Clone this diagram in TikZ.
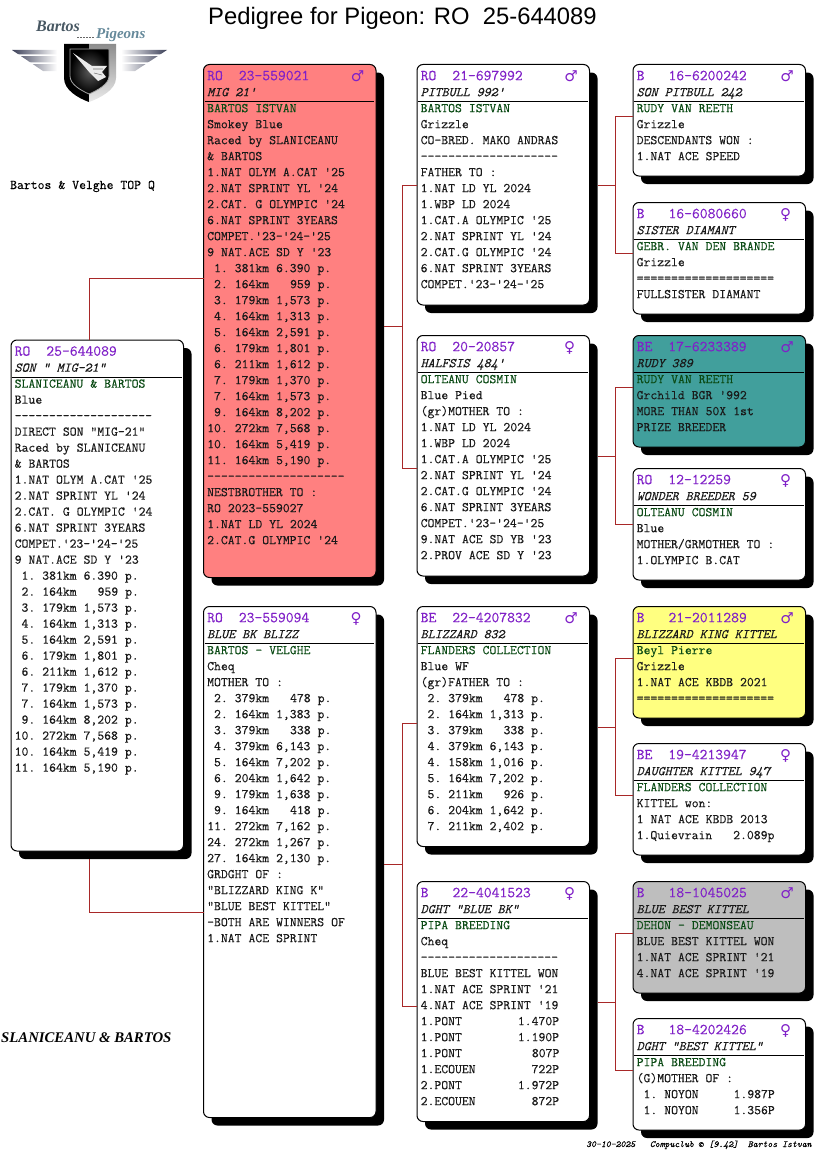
\documentclass[tikz,border=0pt]{standalone}
\usepackage{fontspec}
\usepackage{xcolor}
\usepackage{tikz}
\usetikzlibrary{calc,shadows}
\setmainfont{Liberation Serif}
\setsansfont{Liberation Sans}
\setmonofont[FakeBold=0.2]{Latin Modern Mono}
\newfontfamily\symfont{DejaVu Sans}
\definecolor{ringpurple}{HTML}{8020C8}
\definecolor{loftgreen}{HTML}{0A4A14}
\definecolor{linkred}{HTML}{A82828}
\definecolor{cardred}{HTML}{FF8080}
\definecolor{cardteal}{HTML}{419F9C}
\definecolor{cardyellow}{HTML}{FFFF80}
\definecolor{cardgrey}{HTML}{BEBEBE}
\definecolor{wingblue}{HTML}{3C4058}
\newcommand{\ringno}[1]{\rule{0pt}{15.5pt}{\fontsize{15.2}{16}\selectfont\spaceskip=8pt\xspaceskip=8pt\relax\textcolor{ringpurple}{#1}}}
\newcommand{\petname}[1]{\textit{#1}}
\newcommand{\loftname}[1]{\textcolor{loftgreen}{#1}}
\newcommand{\pad}{\phantom{0}}
\newcommand{\racelist}{\pad1.~381km~6.390~p.\\\pad2.~164km~~~959~p.\\\pad3.~179km~1,573~p.\\\pad4.~164km~1,313~p.\\\pad5.~164km~2,591~p.\\\pad6.~179km~1,801~p.\\\pad6.~211km~1,612~p.\\\pad7.~179km~1,370~p.\\\pad7.~164km~1,573~p.\\\pad9.~164km~8,202~p.\\10.~272km~7,568~p.\\10.~164km~5,419~p.\\11.~164km~5,190~p.}
\newcommand{\cardfont}{\ttfamily\fontsize{13.33}{16}\selectfont\spaceskip=7pt\xspaceskip=7pt\relax}
\newcommand{\stampfont}{\ttfamily\itshape\fontsize{9.33}{10}\selectfont\spaceskip=4.9pt\xspaceskip=4.9pt\relax}
\tikzset{
ped box/.style={
  draw=black,
  line width=1pt,
  rounded corners=6pt,
  anchor=north west,
  outer sep=0pt,
  inner sep=0pt,
  minimum width=172.5pt,
  fill=white,
  drop shadow={shadow xshift=8pt,shadow yshift=-8pt,fill=black,opacity=1}
},
ped text/.style={
  anchor=north west,
  inner xsep=3.5pt,
  inner ysep=0pt,
  text width=168pt,
  align=flush left,
  text=black!90,
  font=\cardfont
},
head rule/.style={draw=black, line width=1pt},
sex mark/.style={text=ringpurple, inner sep=0pt, font=\symfont\bfseries\fontsize{15}{15}\selectfont},
link/.style={draw=linkred, line width=1pt},
loose text/.style={anchor=base west, inner sep=0pt}
}
\begin{document}
\begin{tikzpicture}[x=1pt,y=-1pt]
\useasboundingbox (0,0) rectangle (816,1172);
% page texts
\node[loose text,font=\sffamily\fontsize{23.8}{24}\selectfont] (title) at (208,25) {Pedigree for Pigeon: RO~~25-644089};
\node[loose text,font=\cardfont] (topq) at (10,189) {Bartos \& Velghe TOP Q};
\node[loose text,font=\rmfamily\bfseries\itshape\fontsize{14.75}{15}\selectfont] (breeder) at (1,1042) {SLANICEANU \& BARTOS};
\node[loose text,font=\stampfont] (stamp) at (586,1147) {30-10-2025~~~Compuclub © [9.42]~~Bartos Istvan};
% logo
\node[loose text,text=black!70!cyan,font=\rmfamily\bfseries\itshape\fontsize{16}{16}\selectfont] (logoa) at (36,32) {Bartos};
\node[loose text,text=cyan!45!black!80,font=\rmfamily\bfseries\itshape\fontsize{15}{15}\selectfont] (logob) at (96,39) {Pigeons};
\draw[black!60,line width=0.8pt,dash pattern=on 2pt off 1pt] (77,37) -- (95,37);
\shade[left color=wingblue,right color=white] (12,50) -- (57,50) -- (57,71) -- (43,71) -- cycle;
\shade[left color=white,right color=wingblue] (167,50) -- (121,50) -- (121,71) -- (135,71) -- cycle;
\fill[white] (16,54.5) rectangle (57,56) (30,62.5) rectangle (57,64);
\fill[white] (121,54.5) rectangle (163,56) (121,62.5) rectangle (149,64);
\fill[black] (64,44) -- (89,44) -- (89,102) .. controls (78,98) and (64,90) .. (64,78) -- cycle;
\shade[top color=black!45,bottom color=black!8] (89,44) -- (116,44) -- (116,78) .. controls (116,90) and (100,98) .. (89,102) -- cycle;
\shade[inner color=black!65,outer color=black,draw=black!35,line width=0.8pt] (70,49) -- (109,49) -- (109,76) .. controls (109,84) and (98,90) .. (89,94) .. controls (80,90) and (70,84) .. (70,76) -- cycle;
\fill[black!8] (73,53) -- (92,66) -- (107,66) -- (102,72) -- (106,77) -- (98,81) -- (90,73) -- cycle;
\draw[black!55,line width=0.6pt] (93,69) -- (103,69) (94,73) -- (102,75);
% cards
\node[ped box,minimum height=511pt] (root) at (11,340) {};
\node[ped box,fill=cardred,minimum height=513pt] (sire) at (203.5,64.5) {};
\node[ped box,minimum height=511pt] (dam) at (203.5,606.5) {};
\node[ped box,minimum height=240.5pt] (ss) at (417,64.5) {};
\node[ped box,minimum height=240.5pt] (sd) at (417,335.5) {};
\node[ped box,minimum height=240pt] (ds) at (417,606.5) {};
\node[ped box,minimum height=240pt] (dd) at (417,881.5) {};
\node[ped box,minimum height=111.5pt] (sss) at (633,64.5) {};
\node[ped box,minimum height=111.5pt] (ssd) at (633,202.5) {};
\node[ped box,fill=cardteal,minimum height=111.5pt] (sds) at (633,335.5) {};
\node[ped box,minimum height=111.5pt] (sdd) at (633,468.5) {};
\node[ped box,fill=cardyellow,minimum height=111.5pt] (dss) at (633,606.5) {};
\node[ped box,minimum height=111.5pt] (dsd) at (633,743.5) {};
\node[ped box,fill=cardgrey,minimum height=111.5pt] (dds) at (633,881.5) {};
\node[ped box,minimum height=111.5pt] (ddd) at (633,1018.5) {};
\node[ped text] (roottxt) at (root.north west) {\ringno{RO~~25-644089}\\\petname{SON " MIG-21"}\\\loftname{SLANICEANU \& BARTOS}\\Blue\\--------------------\\DIRECT SON "MIG-21"\\Raced by SLANICEANU\\\& BARTOS\\1.NAT OLYM A.CAT '25\\2.NAT SPRINT YL '24\\2.CAT. G OLYMPIC '24\\6.NAT SPRINT 3YEARS\\COMPET.'23-'24-'25\\9 NAT.ACE SD Y '23\\\racelist};
\node[ped text] (siretxt) at (sire.north west) {\ringno{RO~~23-559021}\\\petname{MIG 21'}\\\loftname{BARTOS ISTVAN}\\Smokey Blue\\Raced by SLANICEANU\\\& BARTOS\\1.NAT OLYM A.CAT '25\\2.NAT SPRINT YL '24\\2.CAT. G OLYMPIC '24\\6.NAT SPRINT 3YEARS\\COMPET.'23-'24-'25\\9 NAT.ACE SD Y '23\\\racelist\\--------------------\\NESTBROTHER TO :\\RO 2023-559027\\1.NAT LD YL 2024\\2.CAT.G OLYMPIC '24};
\node[ped text] (damtxt) at (dam.north west) {\ringno{RO~~23-559094}\\\petname{BLUE BK BLIZZ}\\\loftname{BARTOS - VELGHE}\\Cheq\\MOTHER TO :\\\pad2.~379km~~~478~p.\\\pad2.~164km~1,383~p.\\\pad3.~379km~~~338~p.\\\pad4.~379km~6,143~p.\\\pad5.~164km~7,202~p.\\\pad6.~204km~1,642~p.\\\pad9.~179km~1,638~p.\\\pad9.~164km~~~418~p.\\11.~272km~7,162~p.\\24.~272km~1,267~p.\\27.~164km~2,130~p.\\GRDGHT OF :\\"BLIZZARD KING K"\\"BLUE BEST KITTEL"\\-BOTH ARE WINNERS OF\\1.NAT ACE SPRINT};
\node[ped text] (sstxt) at (ss.north west) {\ringno{RO~~21-697992}\\\petname{PITBULL 992'}\\\loftname{BARTOS ISTVAN}\\Grizzle\\CO-BRED. MAKO ANDRAS\\--------------------\\FATHER TO :\\1.NAT LD YL 2024\\1.WBP LD 2024\\1.CAT.A OLYMPIC '25\\2.NAT SPRINT YL '24\\2.CAT.G OLYMPIC '24\\6.NAT SPRINT 3YEARS\\COMPET.'23-'24-'25};
\node[ped text] (sdtxt) at (sd.north west) {\ringno{RO~~20-20857}\\\petname{HALFSIS 484'}\\\loftname{OLTEANU COSMIN}\\Blue Pied\\(gr)MOTHER TO :\\1.NAT LD YL 2024\\1.WBP LD 2024\\1.CAT.A OLYMPIC '25\\2.NAT SPRINT YL '24\\2.CAT.G OLYMPIC '24\\6.NAT SPRINT 3YEARS\\COMPET.'23-'24-'25\\9.NAT ACE SD YB '23\\2.PROV ACE SD Y '23};
\node[ped text] (dstxt) at (ds.north west) {\ringno{BE~~22-4207832}\\\petname{BLIZZARD 832}\\\loftname{FLANDERS COLLECTION}\\Blue WF\\(gr)FATHER TO :\\\pad2.~379km~~~478~p.\\\pad2.~164km~1,313~p.\\\pad3.~379km~~~338~p.\\\pad4.~379km~6,143~p.\\\pad4.~158km~1,016~p.\\\pad5.~164km~7,202~p.\\\pad5.~211km~~~926~p.\\\pad6.~204km~1,642~p.\\\pad7.~211km~2,402~p.};
\node[ped text] (ddtxt) at (dd.north west) {\ringno{B~~~22-4041523}\\\petname{DGHT "BLUE BK"}\\\loftname{PIPA BREEDING}\\Cheq\\--------------------\\BLUE BEST KITTEL WON\\1.NAT ACE SPRINT '21\\4.NAT ACE SPRINT '19\\1.PONT~~~~~~~~1.470P\\1.PONT~~~~~~~~1.190P\\1.PONT~~~~~~~~~~807P\\1.ECOUEN~~~~~~~~722P\\2.PONT~~~~~~~~1.972P\\2.ECOUEN~~~~~~~~872P};
\node[ped text] (ssstxt) at (sss.north west) {\ringno{B~~~16-6200242}\\\petname{SON PITBULL 242}\\\loftname{RUDY VAN REETH}\\Grizzle\\DESCENDANTS WON :\\1.NAT ACE SPEED};
\node[ped text] (ssdtxt) at (ssd.north west) {\ringno{B~~~16-6080660}\\\petname{SISTER DIAMANT}\\\loftname{GEBR. VAN DEN BRANDE}\\Grizzle\\====================\\FULLSISTER DIAMANT};
\node[ped text] (sdstxt) at (sds.north west) {\ringno{BE~~17-6233389}\\\petname{RUDY 389}\\\loftname{RUDY VAN REETH}\\Grchild BGR '992\\MORE THAN 50X 1st\\PRIZE BREEDER};
\node[ped text] (sddtxt) at (sdd.north west) {\ringno{RO~~12-12259}\\\petname{WONDER BREEDER 59}\\\loftname{OLTEANU COSMIN}\\Blue\\MOTHER/GRMOTHER TO :\\1.OLYMPIC B.CAT};
\node[ped text] (dsstxt) at (dss.north west) {\ringno{B~~~21-2011289}\\\petname{BLIZZARD KING KITTEL}\\\loftname{Beyl Pierre}\\Grizzle\\1.NAT ACE KBDB 2021\\====================};
\node[ped text] (dsdtxt) at (dsd.north west) {\ringno{BE~~19-4213947}\\\petname{DAUGHTER KITTEL 947}\\\loftname{FLANDERS COLLECTION}\\KITTEL won:\\1 NAT ACE KBDB 2013\\1.Quievrain~~~2.089p};
\node[ped text] (ddstxt) at (dds.north west) {\ringno{B~~~18-1045025}\\\petname{BLUE BEST KITTEL}\\\loftname{DEHON - DEMONSEAU}\\BLUE BEST KITTEL WON\\1.NAT ACE SPRINT '21\\4.NAT ACE SPRINT '19};
\node[ped text] (dddtxt) at (ddd.north west) {\ringno{B~~~18-4202426}\\\petname{DGHT "BEST KITTEL"}\\\loftname{PIPA BREEDING}\\(G)MOTHER OF :\\\pad1.~NOYON~~~~~1.987P\\\pad1.~NOYON~~~~~1.356P};
% rules under the names, sex marks
\foreach \card in {root,sire,dam,ss,sd,ds,dd,sss,ssd,sds,sdd,dss,dsd,dds,ddd}
  \draw[head rule] ([shift={(1,37)}]\card.north west) -- ([shift={(-2,37)}]\card.north east);
\foreach \card in {sire,ss,ds,sss,sds,dss,dds}
  \node[sex mark] (\card sex) at ([shift={(154,12)}]\card.north west) {♂};
\foreach \card in {dam,sd,dd,ssd,sdd,dsd,ddd}
  \node[sex mark] (\card sex) at ([shift={(152.5,12)}]\card.north west) {♀};
% connectors
\draw[link] ([xshift=78]root.north west) |- ([yshift=-213.5]sire.north west);
\draw[link] ([shift={(78,8)}]root.south west) |- ([yshift=-305.5]dam.north west);
\foreach \up/\down/\from/\jx/\jy/\uy/\dy in {ss/sd/sire/402.5/326.5/185/468,sss/ssd/ss/615.5/185/116/253,sds/sdd/sd/615.5/456/387/524,ds/dd/dam/402.5/864/723/1006,dss/dsd/ds/615.5/727/658/795,dds/ddd/dd/615.5/1002/933/1070}{
  \coordinate (join) at (\jx,\jy);
  \draw[link] ([xshift=8]\from.east |- join) -- (join);
  \draw[link] (\up.west |- 0,\uy) -| (join);
  \draw[link] (\down.west |- 0,\dy) -| (join);
}
\end{tikzpicture}
\end{document}
